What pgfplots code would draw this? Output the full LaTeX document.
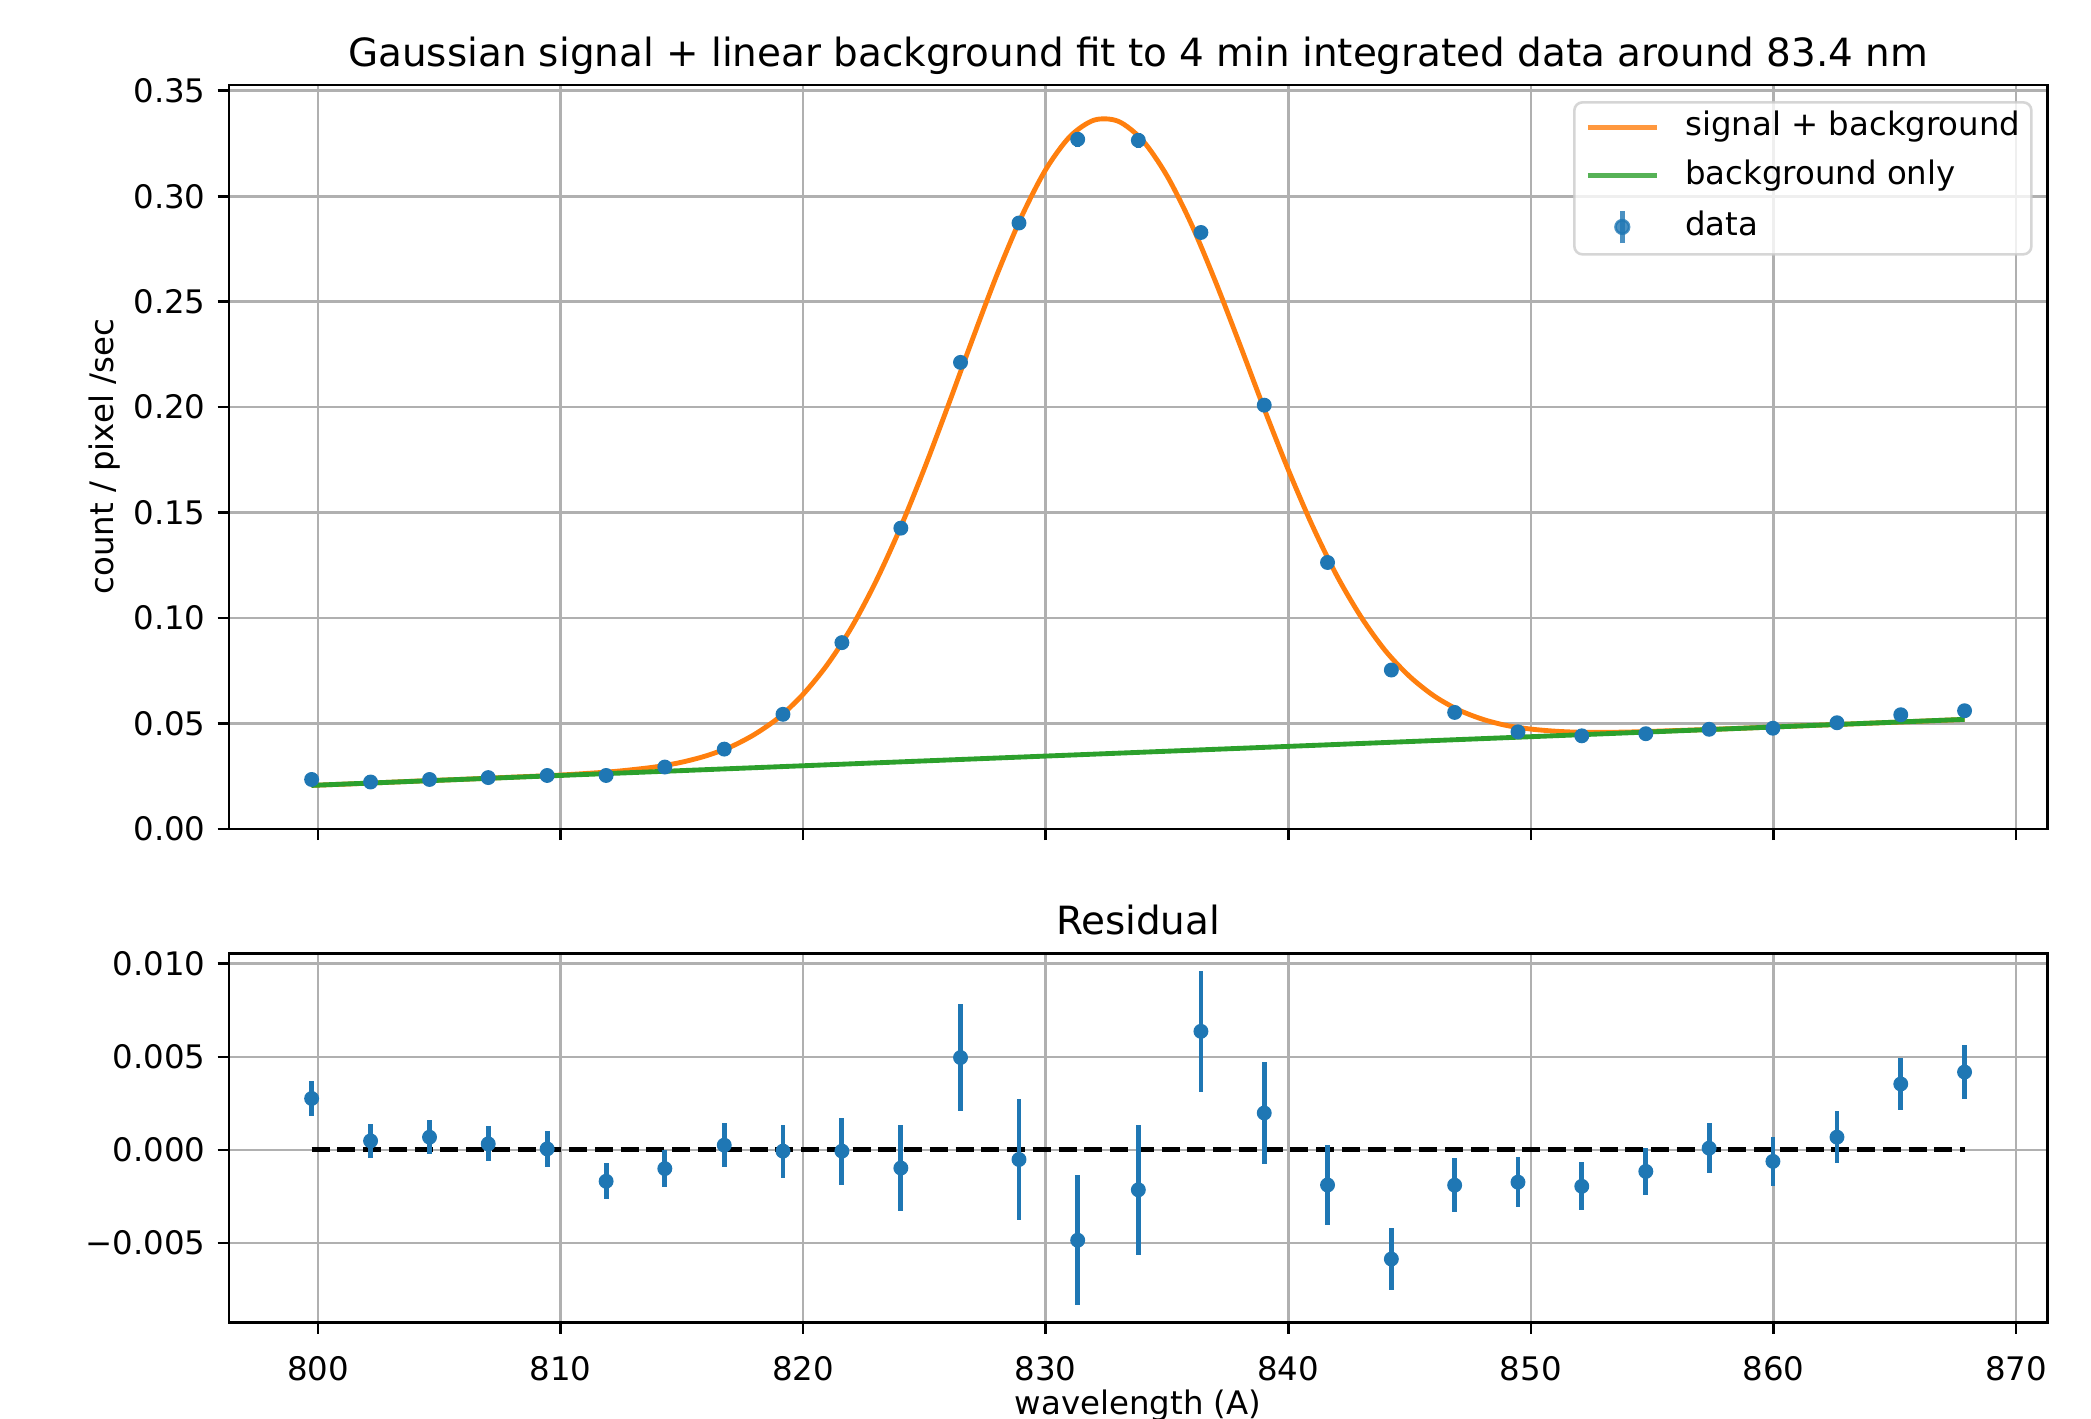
\documentclass[border=0pt]{standalone}
\usepackage{fontspec}
\setmainfont{DejaVu Sans}
\usepackage{pgfplots}
\usepackage{pgfplotstable}
\pgfplotsset{compat=1.18}
\definecolor{tabblue}{HTML}{1F77B4}
\definecolor{taborange}{HTML}{FF7F0E}
\definecolor{tabgreen}{HTML}{2CA02C}
\definecolor{gridgray}{HTML}{B0B0B0}
\definecolor{leggray}{HTML}{CCCCCC}

\pgfplotstableread{
x y r e
799.74 0.0234 0.00276 0.00092
802.17 0.0222 0.00048 0.00090
804.60 0.0234 0.00068 0.00093
807.02 0.0243 0.00032 0.00094
809.45 0.0253 0.00005 0.00096
811.88 0.0253 -0.00169 0.00096
814.30 0.0293 -0.00101 0.00098
816.75 0.0378 0.00025 0.00117
819.17 0.0543 -0.00007 0.00142
821.60 0.0883 -0.00007 0.00180
824.03 0.1426 -0.00098 0.00230
826.49 0.2212 0.00496 0.00287
828.90 0.2873 -0.00052 0.00327
831.32 0.3270 -0.00486 0.00349
833.82 0.3265 -0.00215 0.00350
836.40 0.2828 0.00637 0.00326
839.01 0.2009 0.00198 0.00274
841.62 0.1263 -0.00189 0.00217
844.25 0.0753 -0.00587 0.00167
846.86 0.0552 -0.00190 0.00144
849.47 0.0460 -0.00174 0.00133
852.10 0.0441 -0.00196 0.00128
854.74 0.0451 -0.00116 0.00128
857.35 0.0472 0.00009 0.00133
859.98 0.0477 -0.00062 0.00133
862.62 0.0503 0.00068 0.00139
865.25 0.0541 0.00354 0.00142
867.88 0.0560 0.00418 0.00144
}\datatab

\pgfplotstableread{
x f
799.74 0.0206
802 0.0216
804 0.0226
806 0.0235
808 0.0245
810 0.0255
812 0.0270
813 0.0281
814 0.0295
815 0.0316
816 0.0346
817 0.0388
818 0.0448
819 0.0528
820 0.0638
821 0.0779
822 0.0956
823 0.1173
824 0.1425
825 0.1709
826 0.2014
827 0.2327
828 0.2630
829 0.2902
830 0.3126
831 0.3283
832 0.3361
833 0.3355
834 0.3264
835 0.3097
836 0.2869
837 0.2595
838 0.2298
839 0.1994
840 0.1703
841 0.1436
842 0.1201
843 0.1005
844 0.0845
845 0.0723
846 0.0631
847 0.0565
848 0.0520
849 0.0490
850 0.0473
851 0.0463
852 0.0458
853 0.0458
854 0.0459
856 0.0466
858 0.0474
860 0.0483
862 0.0492
864 0.0501
866 0.0510
867.88 0.0519
}\fittab

\pgfplotstableread{
x b
799.74 0.0206
867.88 0.0519
}\bgtab

\pgfplotsset{
  mpl/.style={
    scale only axis,
    width=561.2pt,
    xmin=796.33, xmax=871.29,
    xtick={800,810,820,830,840,850,860,870},
    axis line style={line width=0.8pt, black},
    every tick/.style={line width=0.8pt, black},
    tick align=outside, tick pos=left,
    major tick length=3.5pt,
    grid=major,
    major grid style={line width=0.8pt, gridgray},
    ticklabel style={font=\fontsize{10}{12}\selectfont},
    yticklabel style={anchor=east, inner sep=0pt, xshift=-3.5pt},
    xticklabel style={anchor=base, inner sep=0pt, yshift=-14.6pt},
    scaled ticks=false,
    every axis title/.style={font=\fontsize{12}{14}\selectfont, at={(axis description cs:0.5,1)}, anchor=base, inner sep=0pt, yshift=5.8pt},
    label style={font=\fontsize{10}{12}\selectfont},
  }
}

\begin{document}
\begin{tikzpicture}
\path[use as bounding box] (-70.65pt,-411.7pt) rectangle (574.7pt,26.2pt);

\begin{axis}[
  mpl,
  at={(0pt,0pt)}, anchor=north west,
  height=229.6pt,
  ymin=0, ymax=0.3528,
  ytick={0,0.05,0.1,0.15,0.2,0.25,0.3,0.35},
  yticklabels={0.00,0.05,0.10,0.15,0.20,0.25,0.30,0.35},
  xticklabels={},
  title={Gaussian signal + linear background fit to 4 min integrated data around 83.4 nm},
  ylabel={count / pixel /sec},
  ylabel style={at={([xshift=-38.5pt]axis description cs:0,0.5)}, anchor=center, rotate=0},
  legend cell align=left,
  legend style={at={(1,1)}, anchor=north east, xshift=-4.5pt, yshift=-5pt,
    draw=leggray, line width=0.8pt, fill=white, fill opacity=0.8, draw opacity=0.8, text opacity=1,
    rounded corners=2.5pt, inner xsep=3.4pt, inner ysep=2.7pt,
    row sep=5pt, column sep=8pt,
    font=\fontsize{10}{12}\selectfont,
    nodes={inner sep=0pt, text height=7.6pt, text depth=2.4pt}},
]
\addplot[taborange, line width=1.5pt, smooth,
  legend image code/.code={\draw[taborange, line width=1.5pt, rounded corners=0pt] (0pt,0pt) -- (21.3pt,0pt);}]
  table[x=x, y=f]{\fittab};
\addlegendentry{signal + background}
\addplot[tabgreen, line width=1.5pt,
  legend image code/.code={\draw[tabgreen, line width=1.5pt, rounded corners=0pt] (0pt,0pt) -- (21.3pt,0pt);}]
  table[x=x, y=b]{\bgtab};
\addlegendentry{background only}
\addplot[only marks, mark=*, mark size=2.1pt, color=tabblue,
  mark options={draw=tabblue, fill=tabblue},
  legend image code/.code={\path (0pt,0pt) (21.3pt,0pt);
    \draw[line width=1.5pt, tabblue, rounded corners=0pt] (10.65pt,-5pt) -- (10.65pt,5pt);
    \fill[tabblue] (10.65pt,0pt) circle (2.1pt);},
  error bars/.cd, y dir=both, y explicit,
  error bar style={line width=1.5pt, tabblue}, error mark=none]
  table[x=x, y=y, y error=e]{\datatab};
\addlegendentry{data}
\end{axis}

\begin{axis}[
  mpl,
  at={(0pt,-268.1pt)}, anchor=north west,
  height=113.8pt,
  ymin=-0.00927, ymax=0.01055,
  ytick={-0.005,0,0.005,0.01},
  yticklabels={−0.005,0.000,0.005,0.010},
  xticklabels={800,810,820,830,840,850,860,870},
  title={Residual},
  xlabel={wavelength (A)},
  xlabel style={at={(axis description cs:0.5,0)}, anchor=base, inner sep=0pt, yshift=-28.5pt},
]
\addplot[black, line width=1.5pt, dash pattern=on 5.55pt off 2.4pt] coordinates {(799.74,0) (867.88,0)};
\addplot[only marks, mark=*, mark size=2.1pt, color=tabblue,
  mark options={draw=tabblue, fill=tabblue},
  error bars/.cd, y dir=both, y explicit,
  error bar style={line width=1.5pt, tabblue}, error mark=none]
  table[x=x, y=r, y error=e]{\datatab};
\end{axis}
\end{tikzpicture}
\end{document}
